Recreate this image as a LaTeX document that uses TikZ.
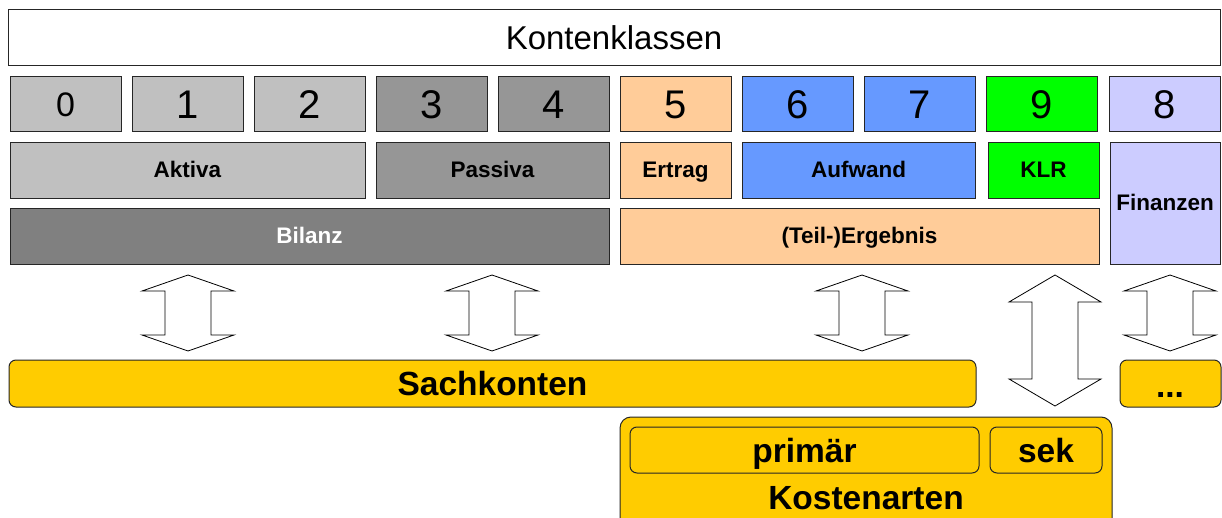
\documentclass[tikz,border=0pt]{standalone}
\usepackage{fontspec}
\setmainfont{Liberation Sans}
\definecolor{gA}{HTML}{C0C0C0}
\definecolor{gB}{HTML}{969696}
\definecolor{gC}{HTML}{808080}
\definecolor{peach}{HTML}{FFCC99}
\definecolor{blu}{HTML}{6699FF}
\definecolor{grn}{HTML}{00FF00}
\definecolor{lav}{HTML}{CCCCFF}
\definecolor{gold}{HTML}{FFCC00}
\newcommand{\bx}[7]{\node[#6, minimum width={#4pt-#2pt}, minimum height={#5pt-#3pt}] (#1) at ({(#2+#4)/2},{(#3+#5)/2}) {#7};}
\newcommand{\dblarr}[6]{%
\draw[arr] (#1,#2) -- ({#1+#4},{#2+#6}) -- ({#1+#5},{#2+#6}) -- ({#1+#5},{#3-#6}) -- ({#1+#4},{#3-#6}) -- (#1,#3) -- ({#1-#4},{#3-#6}) -- ({#1-#5},{#3-#6}) -- ({#1-#5},{#2+#6}) -- ({#1-#4},{#2+#6}) -- cycle;}
\begin{document}
\begin{tikzpicture}[x=1pt,y=-1pt,
  box/.style={draw=black!85, line width=1pt, inner sep=0pt, outer sep=0pt},
  numtxt/.style={box, font=\fontsize{40}{40}\selectfont},
  lbl/.style={box, font=\bfseries\fontsize{22.5}{23}\selectfont, text height=16.2pt, text depth=4pt},
  big/.style={font=\bfseries\fontsize{33.5}{34}\selectfont, text height=24.1pt, text depth=0pt},
  rbox/.style={box, rounded corners=7pt, fill=gold, big},
  arr/.style={draw=black, line width=0.8pt, fill=white, line join=miter}]
\useasboundingbox (0,0) rectangle (1222,518);
\clip (0,0) rectangle (1222,518);
% title
\bx{kk}{8}{10}{1220}{66}{box, fill=white, font=\fontsize{33}{34}\selectfont}{Kontenklassen}
% number row
\bx{n0}{10}{77}{121}{132}{box, fill=gA, font=\fontsize{34}{34}\selectfont}{0}
\bx{n1}{132}{77}{243}{132}{numtxt, fill=gA}{1}
\bx{n2}{254}{77}{365}{132}{numtxt, fill=gA}{2}
\bx{n3}{376}{77}{487}{132}{numtxt, fill=gB}{3}
\bx{n4}{498}{77}{609}{132}{numtxt, fill=gB}{4}
\bx{n5}{620}{77}{731}{132}{numtxt, fill=peach}{5}
\bx{n6}{742}{77}{853}{132}{numtxt, fill=blu}{6}
\bx{n7}{864}{77}{975}{132}{numtxt, fill=blu}{7}
\bx{n9}{986}{77}{1097}{132}{numtxt, fill=grn}{9}
\bx{n8}{1109}{77}{1220}{132}{numtxt, fill=lav}{8}
% second row
\bx{akt}{10}{143}{365}{199}{lbl, fill=gA}{Aktiva}
\bx{pas}{376}{143}{609}{199}{lbl, fill=gB}{Passiva}
\bx{ert}{620}{143}{731}{199}{lbl, fill=peach}{Ertrag}
\bx{auf}{742}{143}{975}{199}{lbl, fill=blu}{Aufwand}
\bx{klr}{988}{143}{1099}{199}{lbl, fill=grn}{KLR}
\bx{fin}{1110}{143}{1220}{265}{lbl, fill=lav}{Finanzen}
% third row
\bx{bil}{10}{209}{609}{265}{lbl, fill=gC, text=white}{Bilanz}
\bx{erg}{620}{209}{1099}{265}{lbl, fill=peach}{(Teil-)Ergebnis}
% arrows
\dblarr{188}{275}{351}{46}{23}{16}
\dblarr{492}{275}{351}{46}{23}{16}
\dblarr{862}{275}{351}{46}{23}{16}
\dblarr{1055}{275}{406}{46}{23}{27}
\dblarr{1170}{275}{351}{46}{23}{16}
% bottom
\bx{sach}{9}{360}{976}{407}{rbox}{Sachkonten}
\bx{etc}{1120}{360}{1221}{407}{rbox}{}
\node[font=\bfseries\fontsize{33.5}{34}\selectfont, anchor=base] (dots) at (1170,397) {...};
\bx{kost}{620}{417}{1112}{540}{box, rounded corners=11pt, fill=gold}{}
\bx{prim}{630}{427}{979}{473}{rbox}{primär}
\bx{sek}{990}{427}{1102}{473}{rbox}{sek}
\node[big] (kosttxt) at (866,497) {Kostenarten};
\end{tikzpicture}
\end{document}
